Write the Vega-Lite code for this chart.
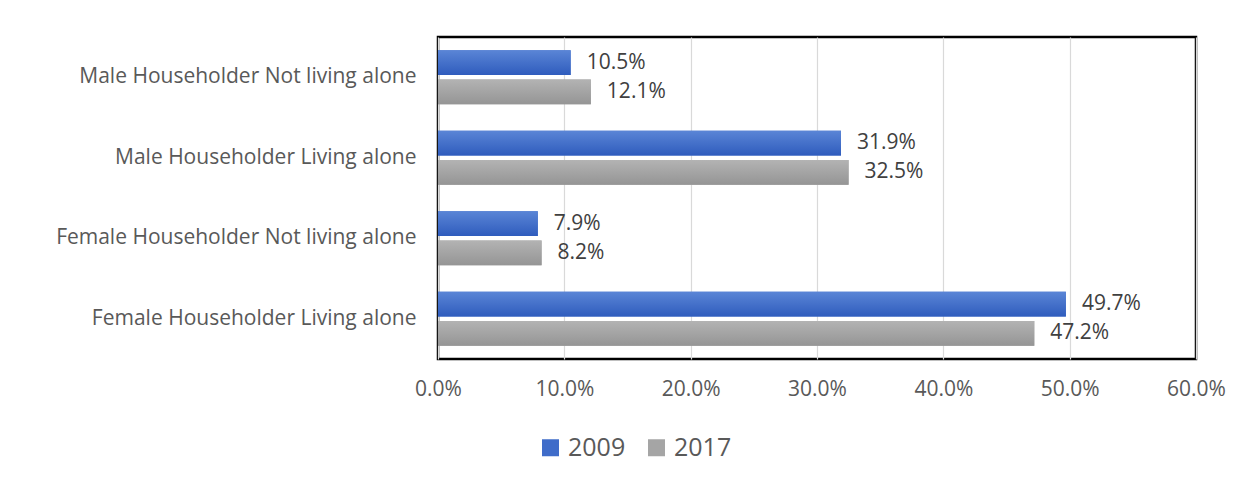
{
  "$schema": "https://vega.github.io/schema/vega-lite/v6.json",
  "autosize": "none",
  "width": 758,
  "height": 322,
  "padding": {"left": 438, "top": 37, "right": 56, "bottom": 124},
  "background": "white",
  "config": {
    "font": "Open Sans",
    "view": {"stroke": "black", "strokeWidth": 2.5},
    "axis": {"labelFont": "Open Sans", "labelColor": "#595959"}
  },
  "data": {
    "values": [
      {"category": "Male Householder Not living alone", "year": "2009", "value": 0.105},
      {"category": "Male Householder Not living alone", "year": "2017", "value": 0.121},
      {"category": "Male Householder Living alone", "year": "2009", "value": 0.319},
      {"category": "Male Householder Living alone", "year": "2017", "value": 0.325},
      {"category": "Female Householder Not living alone", "year": "2009", "value": 0.079},
      {"category": "Female Householder Not living alone", "year": "2017", "value": 0.082},
      {"category": "Female Householder Living alone", "year": "2009", "value": 0.497},
      {"category": "Female Householder Living alone", "year": "2017", "value": 0.472}
    ]
  },
  "encoding": {
    "y": {
      "field": "category",
      "type": "nominal",
      "sort": null,
      "scale": {"paddingInner": 0.33, "paddingOuter": 0.165},
      "axis": {
        "title": null,
        "domain": false,
        "ticks": false,
        "labelFontSize": 21,
        "labelPadding": 22,
        "labelLimit": 500
      }
    },
    "yOffset": {
      "field": "year",
      "type": "nominal",
      "scale": {"paddingInner": 0.15, "paddingOuter": 0}
    },
    "x": {
      "field": "value",
      "type": "quantitative",
      "scale": {"domain": [0, 0.6]},
      "axis": {
        "title": null,
        "format": ".1%",
        "values": [0, 0.1, 0.2, 0.3, 0.4, 0.5, 0.6],
        "domain": false,
        "ticks": false,
        "labelFontSize": 21,
        "labelPadding": 19,
        "labelFlush": false,
        "labelOverlap": false,
        "gridColor": "#d9d9d9",
        "gridWidth": 1.2
      }
    }
  },
  "layer": [
    {
      "mark": {"type": "bar"},
      "encoding": {
        "color": {
          "field": "year",
          "type": "nominal",
          "scale": {"domain": ["2009", "2017"], "range": ["#3f6cc9", "#a5a5a5"]},
          "legend": {
            "title": null,
            "orient": "none",
            "direction": "horizontal",
            "legendX": 100,
            "legendY": 398,
            "symbolType": "square",
            "symbolSize": 289,
            "symbolStrokeWidth": 0,
            "labelFontSize": 25,
            "labelColor": "#595959",
            "labelFont": "Open Sans",
            "columnPadding": 18,
            "labelOffset": 5,
            "offset": 0
          }
        }
      }
    },
    {
      "mark": {"type": "bar"},
      "encoding": {
        "fill": {
          "condition": {
            "test": "datum.year === '2009'",
            "value": {
              "gradient": "linear", "x1": 0, "y1": 0, "x2": 0, "y2": 1,
              "stops": [{"offset": 0, "color": "#5a85d6"}, {"offset": 1, "color": "#2f5cbd"}]
            }
          },
          "value": {
            "gradient": "linear", "x1": 0, "y1": 0, "x2": 0, "y2": 1,
            "stops": [{"offset": 0, "color": "#b3b3b3"}, {"offset": 1, "color": "#959595"}]
          }
        }
      }
    },
    {
      "mark": {"type": "text", "align": "left", "baseline": "middle", "dx": 16, "fontSize": 21, "color": "#404040", "font": "Open Sans"},
      "encoding": {
        "text": {"field": "value", "type": "quantitative", "format": ".1%"}
      }
    }
  ]
}
